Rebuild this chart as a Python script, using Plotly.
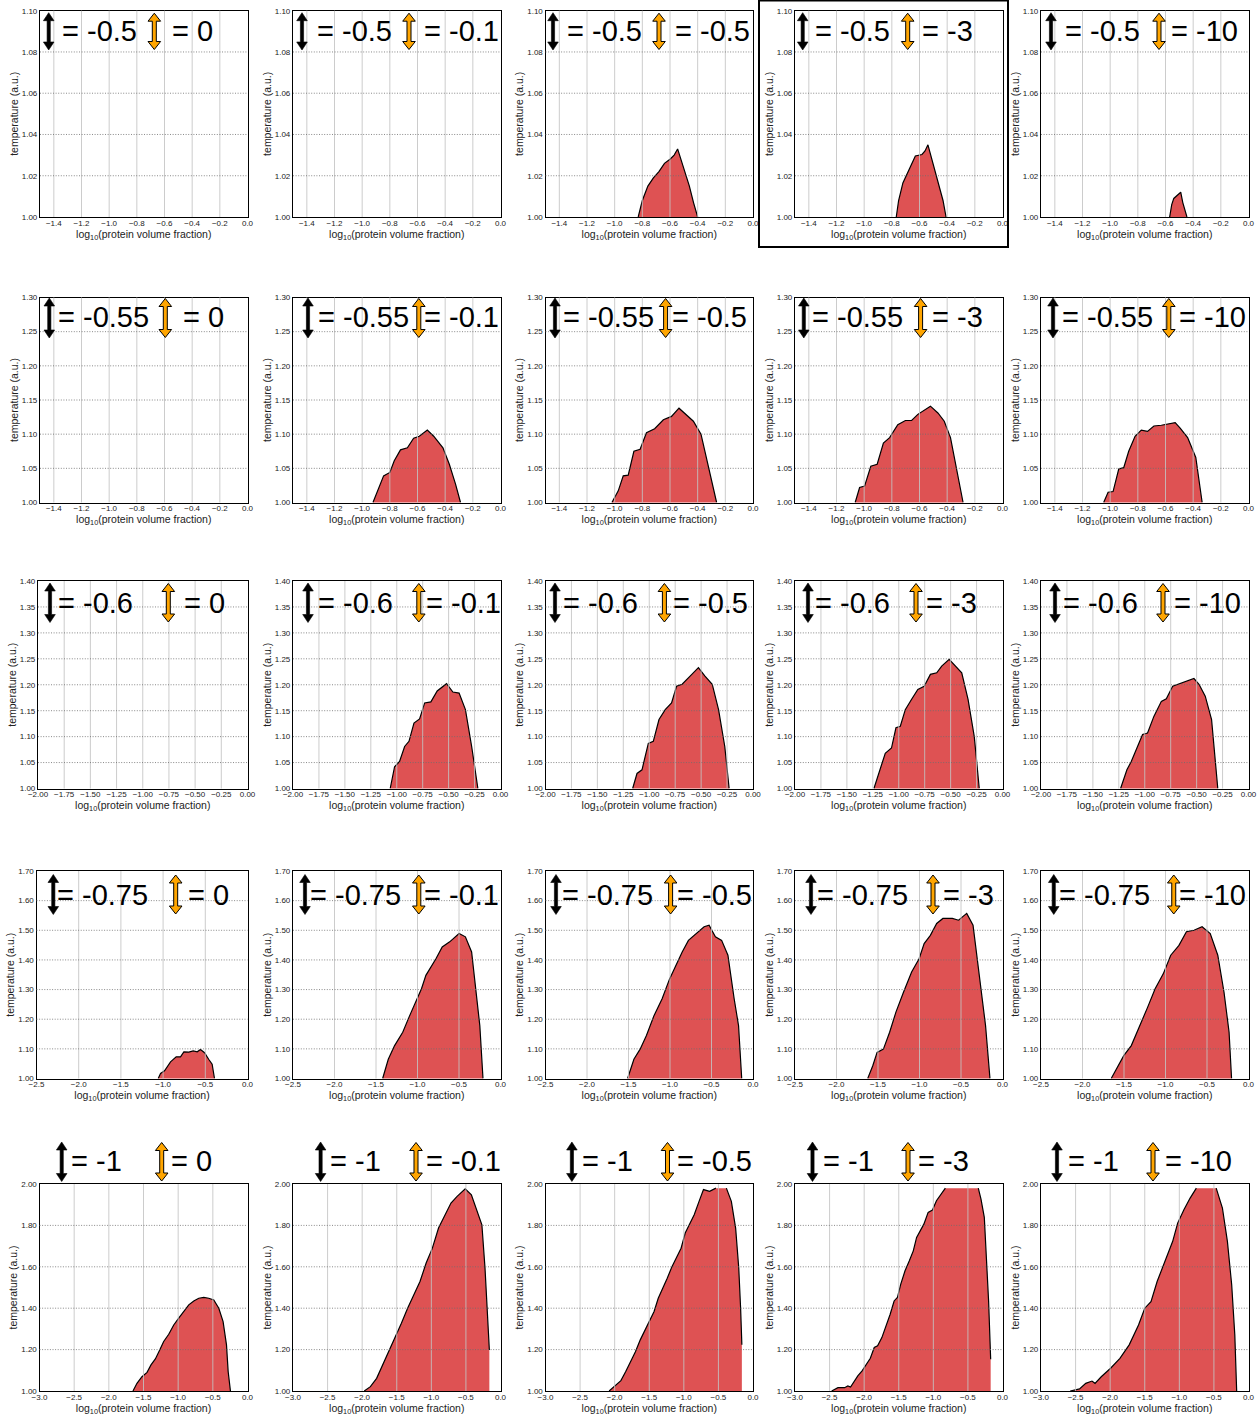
import plotly.graph_objects as go

# ---------------------------------------------------------------- data
# panel parameters: rows share the black-arrow value, columns the orange-arrow value
black_vals = ["-0.5", "-0.55", "-0.6", "-0.75", "-1"]
orange_vals = ["0", "-0.1", "-0.5", "-3", "-10"]

# axis ranges / ticks per row
x_ranges = [(-1.5, 0.0), (-1.5, 0.0), (-2.0, 0.0), (-2.5, 0.0), (-3.0, 0.0)]
y_ranges = [(1.0, 1.10), (1.0, 1.30), (1.0, 1.40), (1.0, 1.70), (1.0, 2.00)]
x_ticks_r1 = [-1.4, -1.2, -1.0, -0.8, -0.6, -0.4, -0.2, 0.0]
x_ticks_r2 = [-1.4, -1.2, -1.0, -0.8, -0.6, -0.4, -0.2, 0.0]
x_ticks_r3 = [-2.0, -1.75, -1.5, -1.25, -1.0, -0.75, -0.5, -0.25, 0.0]
x_ticks_r4 = [-2.5, -2.0, -1.5, -1.0, -0.5, 0.0]
x_ticks_r5 = [-3.0, -2.5, -2.0, -1.5, -1.0, -0.5, 0.0]
y_ticks_r1 = [1.00, 1.02, 1.04, 1.06, 1.08, 1.10]
y_ticks_r2 = [1.00, 1.05, 1.10, 1.15, 1.20, 1.25, 1.30]
y_ticks_r3 = [1.00, 1.05, 1.10, 1.15, 1.20, 1.25, 1.30, 1.35, 1.40]
y_ticks_r4 = [1.00, 1.10, 1.20, 1.30, 1.40, 1.50, 1.60, 1.70]
y_ticks_r5 = [1.00, 1.20, 1.40, 1.60, 1.80, 2.00]
x_fmt = [".1f", ".1f", ".2f", ".1f", ".1f"]

# phase boundaries: log10(volume fraction) vs temperature
x_r1c3 = [-0.83, -0.80, -0.76, -0.72, -0.68, -0.64, -0.60, -0.57, -0.545, -0.52, -0.49, -0.46, -0.43, -0.40]
t_r1c3 = [1.000, 1.008, 1.015, 1.019, 1.022, 1.026, 1.028, 1.030, 1.033, 1.028, 1.022, 1.015, 1.007, 1.000]
x_r1c4 = [-0.768, -0.751, -0.720, -0.691, -0.660, -0.630, -0.582, -0.560, -0.539, -0.515, -0.486, -0.455, -0.430, -0.408]
t_r1c4 = [1.000, 1.008, 1.0165, 1.0207, 1.025, 1.0296, 1.0303, 1.032, 1.035, 1.029, 1.0227, 1.015, 1.008, 1.000]
x_r1c5 = [-0.57, -0.555, -0.54, -0.525, -0.505, -0.49, -0.475, -0.46, -0.445]
t_r1c5 = [1.000, 1.006, 1.009, 1.010, 1.011, 1.012, 1.007, 1.003, 1.000]

x_r2c2 = [-0.922, -0.877, -0.845, -0.800, -0.768, -0.723, -0.673, -0.628, -0.587, -0.529, -0.483, -0.416, -0.370, -0.325, -0.289]
t_r2c2 = [1.000, 1.022, 1.039, 1.044, 1.061, 1.077, 1.080, 1.094, 1.097, 1.106, 1.097, 1.080, 1.056, 1.027, 1.000]
x_r2c3 = [-1.020, -0.974, -0.938, -0.902, -0.861, -0.816, -0.770, -0.711, -0.648, -0.589, -0.535, -0.485, -0.431, -0.376, -0.331, -0.263]
t_r2c3 = [1.000, 1.017, 1.039, 1.040, 1.075, 1.078, 1.102, 1.108, 1.121, 1.126, 1.138, 1.129, 1.119, 1.100, 1.061, 1.000]
x_r2c4 = [-1.065, -1.033, -0.997, -0.952, -0.906, -0.861, -0.816, -0.757, -0.702, -0.657, -0.612, -0.521, -0.467, -0.421, -0.376, -0.331, -0.285]
t_r2c4 = [1.000, 1.022, 1.024, 1.053, 1.056, 1.087, 1.095, 1.114, 1.120, 1.120, 1.129, 1.141, 1.131, 1.119, 1.095, 1.046, 1.000]
x_r2c5 = [-1.047, -1.015, -0.979, -0.938, -0.902, -0.866, -0.820, -0.775, -0.730, -0.684, -0.630, -0.585, -0.530, -0.494, -0.440, -0.381, -0.335]
t_r2c5 = [1.000, 1.015, 1.016, 1.049, 1.051, 1.075, 1.097, 1.106, 1.104, 1.112, 1.113, 1.115, 1.117, 1.109, 1.095, 1.066, 1.000]

x_r3c2 = [-1.063, -1.021, -0.973, -0.924, -0.882, -0.834, -0.780, -0.731, -0.671, -0.610, -0.520, -0.459, -0.399, -0.338, -0.278, -0.218]
t_r3c2 = [1.000, 1.042, 1.052, 1.081, 1.091, 1.126, 1.134, 1.165, 1.167, 1.188, 1.202, 1.186, 1.184, 1.152, 1.081, 1.000]
x_r3c3 = [-1.160, -1.118, -1.070, -1.009, -0.961, -0.906, -0.846, -0.785, -0.737, -0.683, -0.604, -0.526, -0.465, -0.393, -0.332, -0.272, -0.230]
t_r3c3 = [1.000, 1.029, 1.036, 1.087, 1.091, 1.133, 1.152, 1.165, 1.197, 1.201, 1.217, 1.233, 1.217, 1.201, 1.152, 1.081, 1.000]
x_r3c4 = [-1.239, -1.190, -1.130, -1.070, -1.027, -0.985, -0.937, -0.876, -0.816, -0.755, -0.695, -0.634, -0.586, -0.514, -0.453, -0.393, -0.332, -0.272, -0.224]
t_r3c4 = [1.000, 1.029, 1.068, 1.078, 1.117, 1.120, 1.152, 1.172, 1.191, 1.197, 1.220, 1.223, 1.236, 1.249, 1.236, 1.223, 1.172, 1.100, 1.000]
x_r3c5 = [-1.233, -1.172, -1.130, -1.070, -1.021, -0.973, -0.912, -0.840, -0.792, -0.731, -0.671, -0.598, -0.526, -0.477, -0.417, -0.356, -0.296]
t_r3c5 = [1.000, 1.036, 1.052, 1.081, 1.104, 1.107, 1.139, 1.168, 1.173, 1.197, 1.201, 1.207, 1.212, 1.201, 1.178, 1.133, 1.000]

x_r4c1 = [-1.058, -1.030, -0.983, -0.912, -0.845, -0.794, -0.754, -0.695, -0.644, -0.596, -0.557, -0.509, -0.458, -0.419, -0.391]
t_r4c1 = [1.000, 1.017, 1.026, 1.056, 1.073, 1.073, 1.090, 1.089, 1.093, 1.090, 1.098, 1.087, 1.064, 1.048, 1.000]
x_r4c2 = [-1.420, -1.352, -1.276, -1.178, -1.102, -1.027, -0.952, -0.899, -0.838, -0.778, -0.702, -0.612, -0.499, -0.423, -0.348, -0.295, -0.249, -0.211]
t_r4c2 = [1.000, 1.065, 1.111, 1.156, 1.207, 1.257, 1.303, 1.348, 1.376, 1.404, 1.444, 1.461, 1.489, 1.478, 1.427, 1.291, 1.178, 1.000]
x_r4c3 = [-1.511, -1.435, -1.360, -1.284, -1.193, -1.095, -1.005, -0.929, -0.853, -0.778, -0.680, -0.589, -0.529, -0.453, -0.378, -0.302, -0.227, -0.174, -0.136]
t_r4c3 = [1.000, 1.065, 1.099, 1.145, 1.212, 1.269, 1.336, 1.382, 1.427, 1.466, 1.489, 1.512, 1.517, 1.478, 1.466, 1.416, 1.269, 1.178, 1.000]
x_r4c4 = [-1.624, -1.563, -1.511, -1.435, -1.360, -1.284, -1.193, -1.095, -1.005, -0.944, -0.869, -0.793, -0.718, -0.604, -0.529, -0.431, -0.355, -0.279, -0.204, -0.151]
t_r4c4 = [1.000, 1.043, 1.088, 1.099, 1.156, 1.224, 1.291, 1.359, 1.404, 1.455, 1.483, 1.523, 1.540, 1.540, 1.534, 1.557, 1.517, 1.348, 1.178, 1.000]
x_r4c5 = [-1.654, -1.579, -1.503, -1.412, -1.314, -1.216, -1.125, -1.027, -0.937, -0.838, -0.748, -0.657, -0.559, -0.461, -0.370, -0.295, -0.234, -0.204]
t_r4c5 = [1.000, 1.037, 1.077, 1.111, 1.173, 1.240, 1.303, 1.353, 1.416, 1.449, 1.495, 1.500, 1.512, 1.489, 1.416, 1.291, 1.156, 1.000]

x_r5c1 = [-1.652, -1.594, -1.522, -1.449, -1.392, -1.329, -1.266, -1.209, -1.136, -1.064, -0.992, -0.920, -0.847, -0.775, -0.703, -0.631, -0.559, -0.486, -0.414, -0.352, -0.303, -0.279, -0.246]
t_r5c1 = [1.000, 1.037, 1.069, 1.090, 1.126, 1.155, 1.198, 1.239, 1.274, 1.319, 1.352, 1.384, 1.416, 1.435, 1.448, 1.452, 1.448, 1.440, 1.400, 1.335, 1.223, 1.094, 1.000]
x_r5c2 = [-1.970, -1.881, -1.791, -1.701, -1.612, -1.522, -1.433, -1.343, -1.254, -1.164, -1.075, -0.985, -0.896, -0.806, -0.716, -0.627, -0.510, -0.421, -0.331, -0.269, -0.224, -0.179, -0.161]
t_r5c2 = [1.000, 1.021, 1.061, 1.126, 1.190, 1.255, 1.327, 1.400, 1.465, 1.529, 1.618, 1.690, 1.787, 1.844, 1.908, 1.940, 1.977, 1.948, 1.860, 1.803, 1.594, 1.352, 1.198]
x_r5c3 = [-2.080, -2.000, -1.910, -1.840, -1.770, -1.700, -1.630, -1.560, -1.490, -1.430, -1.370, -1.300, -1.240, -1.170, -1.110, -1.040, -0.980, -0.920, -0.850, -0.780, -0.716, -0.627, -0.537, -0.385, -0.313, -0.251, -0.206, -0.179, -0.161]
t_r5c3 = [1.000, 1.025, 1.050, 1.094, 1.142, 1.190, 1.247, 1.295, 1.344, 1.384, 1.448, 1.497, 1.545, 1.602, 1.642, 1.690, 1.763, 1.803, 1.852, 1.916, 1.973, 1.965, 1.980, 1.980, 1.916, 1.787, 1.594, 1.400, 1.223]
x_r5c4 = [-2.470, -2.379, -2.283, -2.236, -2.197, -2.159, -2.092, -2.030, -1.968, -1.911, -1.854, -1.806, -1.744, -1.682, -1.624, -1.567, -1.519, -1.471, -1.409, -1.347, -1.290, -1.242, -1.194, -1.137, -1.075, -1.013, -0.955, -0.898, -0.826, -0.350, -0.311, -0.263, -0.229, -0.201, -0.171]
t_r5c4 = [1.000, 1.016, 1.016, 1.024, 1.019, 1.040, 1.073, 1.097, 1.129, 1.158, 1.210, 1.218, 1.258, 1.315, 1.371, 1.435, 1.452, 1.516, 1.581, 1.629, 1.677, 1.742, 1.774, 1.806, 1.863, 1.874, 1.919, 1.944, 1.980, 1.980, 1.927, 1.839, 1.629, 1.435, 1.153]
x_r5c5 = [-2.578, -2.443, -2.353, -2.263, -2.219, -2.129, -1.994, -1.859, -1.725, -1.590, -1.500, -1.410, -1.321, -1.204, -1.096, -1.024, -0.934, -0.844, -0.754, -0.467, -0.377, -0.305, -0.243, -0.198, -0.171]
t_r5c5 = [1.000, 1.010, 1.037, 1.048, 1.037, 1.069, 1.110, 1.158, 1.223, 1.319, 1.400, 1.432, 1.529, 1.626, 1.723, 1.811, 1.876, 1.932, 1.980, 1.980, 1.884, 1.723, 1.513, 1.271, 1.000]

boundaries = {
    (0, 2): (x_r1c3, t_r1c3), (0, 3): (x_r1c4, t_r1c4), (0, 4): (x_r1c5, t_r1c5),
    (1, 1): (x_r2c2, t_r2c2), (1, 2): (x_r2c3, t_r2c3), (1, 3): (x_r2c4, t_r2c4), (1, 4): (x_r2c5, t_r2c5),
    (2, 1): (x_r3c2, t_r3c2), (2, 2): (x_r3c3, t_r3c3), (2, 3): (x_r3c4, t_r3c4), (2, 4): (x_r3c5, t_r3c5),
    (3, 0): (x_r4c1, t_r4c1), (3, 1): (x_r4c2, t_r4c2), (3, 2): (x_r4c3, t_r4c3), (3, 3): (x_r4c4, t_r4c4), (3, 4): (x_r4c5, t_r4c5),
    (4, 0): (x_r5c1, t_r5c1), (4, 1): (x_r5c2, t_r5c2), (4, 2): (x_r5c3, t_r5c3), (4, 3): (x_r5c4, t_r5c4), (4, 4): (x_r5c5, t_r5c5),
}
x_ticks = [x_ticks_r1, x_ticks_r2, x_ticks_r3, x_ticks_r4, x_ticks_r5]
y_ticks = [y_ticks_r1, y_ticks_r2, y_ticks_r3, y_ticks_r4, y_ticks_r5]

# ---------------------------------------------------------------- layout geometry (pixels)
W, H = 1259, 1416
col_left = [40, 293, 545.5, 795, 1041]
col1_left_by_row = [40, 40, 38, 36.5, 39.5]
panel_w = 207.5
row_top = [10.7, 297.5, 581, 871, 1184]
row_bot = [217, 502.5, 788.5, 1078.5, 1391]
# arrow vertical extent per row
arrow_top = [12.7, 298, 583, 874.5, 1142]
arrow_bot = [50, 338, 622.5, 914.5, 1181.5]
text_mid = [31, 316.5, 603, 894.5, 1160.5]
# per panel: black arrow x, first text x, orange arrow x, second text x
label_pos = [
    [(48.7, 63.3, 154.3, 173.3), (302, 318, 409, 425), (553, 568, 659, 676), (802.7, 816, 907.7, 923.3), (1051, 1066, 1159, 1172)],
    [(49.3, 59.3, 165.3, 184.3), (308, 318.8, 418.8, 425), (555, 564, 665.6, 672.5), (803.8, 812.5, 920.6, 933), (1053, 1062.5, 1168.8, 1180)],
    [(50, 59.3, 168.3, 185), (308, 318.8, 418.8, 426.9), (555, 564.4, 664.4, 673.8), (808, 816, 916, 927), (1055, 1064, 1163, 1175)],
    [(53.3, 58.3, 175.7, 189), (305, 311, 418.8, 425), (556, 562.5, 670.6, 677.5), (811, 817.5, 933, 943.75), (1053.75, 1060, 1173.75, 1180)],
    [(61.7, 71.7, 161.7, 171.7), (320.6, 331, 416, 427), (571.9, 583, 667.5, 678), (812.5, 823.75, 908, 918.75), (1057, 1068.75, 1153, 1166)],
]

# outer margins keep the bottom axis titles clear of the page edge
ML, MR, MT, MB = 0, 0, 0, 0

FONT = "Liberation Sans, Arial, sans-serif"
FILL = "rgba(214,39,40,0.8)"
TOP_CAP = 1.978  # temperatures clipped at the top of the last row


def px(x):
    return (x - ML) / (W - ML - MR)


def py(y):
    return 1 - (y - MT) / (H - MT - MB)


def arrow_path(cx, y0, y1, head_hw, head_len, shaft_hw):
    pts = [
        (cx, y0), (cx + head_hw, y0 + head_len), (cx + shaft_hw, y0 + head_len),
        (cx + shaft_hw, y1 - head_len), (cx + head_hw, y1 - head_len), (cx, y1),
        (cx - head_hw, y1 - head_len), (cx - shaft_hw, y1 - head_len),
        (cx - shaft_hw, y0 + head_len), (cx - head_hw, y0 + head_len),
    ]
    return "M " + " L ".join(f"{px(a):.6f},{py(b):.6f}" for a, b in pts) + " Z"


def outline(xs, ts, cap):
    lx, lt = [], []
    for i, (x, t) in enumerate(zip(xs, ts)):
        if cap is not None and i > 0 and t >= cap and ts[i - 1] >= cap:
            lx.append(None)
            lt.append(None)
        lx.append(x)
        lt.append(t)
    return lx, lt


fig = go.Figure()
layout = dict(
    width=W, height=H, margin=dict(l=ML, r=MR, t=MT, b=MB, autoexpand=False),
    paper_bgcolor="white", plot_bgcolor="white", showlegend=False,
    font=dict(family=FONT, color="#1a1a1a"),
)
shapes, annotations = [], []

for r in range(5):
    for c in range(5):
        n = r * 5 + c + 1
        sfx = "" if n == 1 else str(n)
        xa, ya = f"x{sfx}", f"y{sfx}"
        left = col1_left_by_row[r] if c == 0 else col_left[c]
        right = col_left[c] + panel_w
        layout[f"xaxis{sfx}"] = dict(
            domain=[px(left), px(right)], anchor=ya, range=list(x_ranges[r]),
            automargin=False,
            tickvals=x_ticks[r], tickformat=x_fmt[r], showgrid=False, zeroline=False,
            showline=True, mirror=True, linecolor="black", linewidth=1.2,
            ticks="", ticklabelstandoff=-2,
            tickfont=dict(size=8, family=FONT, color="#222"),
            title=dict(text="log<sub>10</sub>(protein volume fraction)",
                       font=dict(size=10.5, family=FONT, color="#222"), standoff=0),
        )
        layout[f"yaxis{sfx}"] = dict(
            domain=[py(row_bot[r]), py(row_top[r])], anchor=xa, range=list(y_ranges[r]),
            automargin=False,
            tickvals=y_ticks[r], tickformat=".2f", showgrid=False, zeroline=False,
            showline=True, mirror=True, linecolor="black", linewidth=1.2,
            ticks="",
            tickfont=dict(size=8, family=FONT, color="#222"),
            title=dict(text="temperature (a.u.)",
                       font=dict(size=10.5, family=FONT, color="#222"), standoff=1),
        )

        if (r, c) in boundaries:
            bx, bt = boundaries[(r, c)]
            fig.add_trace(go.Scatter(x=bx, y=bt, xaxis=xa, yaxis=ya, mode="lines",
                                     fill="tozeroy", fillcolor=FILL,
                                     line=dict(width=0, color="rgba(0,0,0,0)"),
                                     hoverinfo="skip"))
            lx, lt = outline(bx, bt, TOP_CAP if r == 4 else None)
            fig.add_trace(go.Scatter(x=lx, y=lt, xaxis=xa, yaxis=ya, mode="lines",
                                     line=dict(width=1.2, color="black"),
                                     connectgaps=False, hoverinfo="skip"))

        # grid drawn over the filled region
        for v in x_ticks[r]:
            if x_ranges[r][0] < v < x_ranges[r][1]:
                shapes.append(dict(type="line", xref=xa, yref=f"{ya} domain", x0=v, x1=v,
                                   y0=0, y1=1, layer="above",
                                   line=dict(color="rgba(195,195,195,0.85)", width=1)))
        for v in y_ticks[r]:
            if y_ranges[r][0] < v < y_ranges[r][1]:
                shapes.append(dict(type="line", xref=f"{xa} domain", yref=ya, x0=0, x1=1,
                                   y0=v, y1=v, layer="above",
                                   line=dict(color="rgba(110,110,110,0.9)", width=0.9,
                                             dash="1px,1.6px")))

        # parameter labels with double arrows
        bxp, t1x, oxp, t2x = label_pos[r][c]
        shapes.append(dict(type="path", xref="paper", yref="paper", layer="above",
                           path=arrow_path(bxp, arrow_top[r], arrow_bot[r], 5.3, 8, 1.6),
                           fillcolor="black", line=dict(color="black", width=0.6)))
        shapes.append(dict(type="path", xref="paper", yref="paper", layer="above",
                           path=arrow_path(oxp, arrow_top[r] + 0.5, arrow_bot[r] - 0.5, 6.3, 8, 2.0),
                           fillcolor="#FFA500", line=dict(color="black", width=1)))
        for tx, val in ((t1x, black_vals[r]), (t2x, orange_vals[c])):
            annotations.append(dict(xref="paper", yref="paper", x=px(tx - 3), y=py(text_mid[r]),
                                    xanchor="left", yanchor="middle", showarrow=False,
                                    text=f"= {val}", font=dict(size=29, family=FONT, color="black")))

# frame around the highlighted panel
shapes.append(dict(type="rect", xref="paper", yref="paper", layer="above",
                   x0=px(759), x1=px(1008), y0=py(247), y1=py(0.5),
                   line=dict(color="black", width=2), fillcolor="rgba(0,0,0,0)"))

layout["shapes"] = shapes
layout["annotations"] = annotations
fig.update_layout(**layout)
fig.write_html("out.html",
               post_script="document.body.style.margin='0px';document.body.style.padding='0px';")
